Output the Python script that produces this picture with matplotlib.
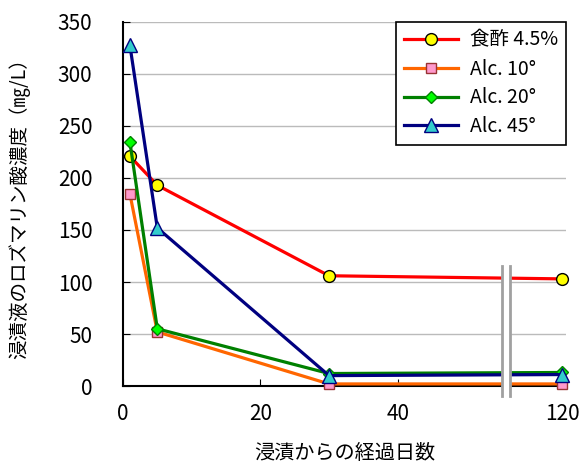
import matplotlib.pyplot as plt
import numpy as np

plt.rcParams['font.family'] = ['Noto Sans CJK JP', 'DejaVu Sans']

# 経過日数 (120日目は軸を省略して右端に表示)
days = [1, 5, 30, 120]
vinegar = [221, 193, 106, 103]
alc10 = [185, 52, 2, 2]
alc20 = [235, 55, 12, 13]
alc45 = [328, 152, 10, 11]

labels = ["食酢 4.5%", "Alc. 10°", "Alc. 20°", "Alc. 45°"]
xtick_days = [0, 20, 40, 120]


def xpos(d):
    # 60日を超える部分は省略線の右側へ詰める
    d = np.asarray(d, dtype=float)
    return np.where(d > 60, 64 + (d - 120), d)


fig = plt.figure(figsize=(5.79, 4.63), dpi=100)
ax = fig.add_axes([0.2124, 0.1663, 0.765, 0.7862])

styles = [
    dict(color="#FF0000", marker="o", mfc="#FFFF00", mec="#000000", ms=8.5),
    dict(color="#FF6600", marker="s", mfc="#FF99CC", mec="#993333", ms=7.5),
    dict(color="#008000", marker="D", mfc="#00FF00", mec="#008000", ms=6),
    dict(color="#000080", marker="^", mfc="#33CCCC", mec="#000080", ms=9.5),
]
series = [vinegar, alc10, alc20, alc45]
for vals, lab, st in zip(series, labels, styles):
    ax.plot(xpos(days), vals, lw=2.3, label=lab, mew=1, clip_on=False, zorder=3, **st)

ax.set_xlim(0, 64.5)
ax.set_ylim(0, 350)
ax.set_yticks(np.arange(0, 351, 50))
ax.yaxis.grid(True, color="#BBBBBB", lw=1)
ax.set_axisbelow(True)

ax.set_xticks(xpos(xtick_days))
ax.set_xticklabels([str(d) for d in xtick_days])
ax.tick_params(axis="x", direction="in", length=5, pad=12, labelsize=15, colors="black")
ax.tick_params(axis="y", direction="in", length=5, pad=22, labelsize=15)

for s in ["top", "right"]:
    ax.spines[s].set_visible(False)
for s in ["left", "bottom"]:
    ax.spines[s].set_linewidth(1.5)

# 軸の省略記号
ax.axvspan(55.2, 56.3, ymin=-0.03, ymax=0.33, color="white", zorder=5, clip_on=False)
for xb in [55.2, 56.3]:
    ax.plot([xb, xb], [-10, 115], color="#A0A0A0", lw=2, zorder=6, clip_on=False)

ax.set_xlabel("浸漬からの経過日数", fontsize=14.5, labelpad=13)
ax.set_ylabel("浸漬液のロズマリン酸濃度（㎎/L）", fontsize=14, labelpad=20)

leg = ax.legend(loc="upper right", fontsize=14, frameon=True, fancybox=False,
                edgecolor="black", framealpha=1, handlelength=2.8,
                borderaxespad=0.0, borderpad=0.4, labelspacing=0.4,
                handletextpad=0.6)
leg.get_frame().set_linewidth(1.2)
leg.set_zorder(10)

fig.savefig("out.png", dpi=100)
